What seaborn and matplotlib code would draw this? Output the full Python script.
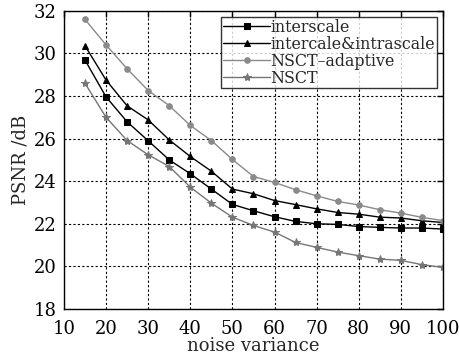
import numpy as np
import pandas as pd
import seaborn as sns
import matplotlib.pyplot as plt

noise = [15, 20, 25, 30, 35, 40, 45, 50, 55, 60, 65, 70, 75, 80, 85, 90, 95, 100]

interscale = [29.69, 27.96, 26.79, 25.90, 25.00, 24.35, 23.63, 22.91, 22.61, 22.33,
              22.11, 22.00, 21.97, 21.87, 21.83, 21.80, 21.80, 21.75]
inter_intra = [30.36, 28.75, 27.54, 26.88, 25.94, 25.16, 24.47, 23.63, 23.41, 23.09,
               22.90, 22.70, 22.53, 22.45, 22.31, 22.27, 22.14, 22.06]
nsct_adaptive = [31.60, 30.40, 29.28, 28.26, 27.55, 26.62, 25.91, 25.02, 24.22, 23.94,
                 23.60, 23.31, 23.05, 22.88, 22.66, 22.50, 22.30, 22.15]
nsct = [28.60, 27.00, 25.91, 25.24, 24.69, 23.72, 22.97, 22.31, 21.92, 21.61,
        21.12, 20.89, 20.67, 20.50, 20.34, 20.28, 20.08, 19.95]

series = [
    ('interscale', interscale, 's', 'black'),
    ('intercale&intrascale', inter_intra, '^', 'black'),
    ('NSCT\u2013adaptive', nsct_adaptive, 'o', '#8a8a8a'),
    ('NSCT', nsct, '*', '#767676'),
]

sns.set_style('white')
plt.rcParams['font.family'] = ['DejaVu Serif']
plt.rcParams['mathtext.fontset'] = 'dejavuserif'

fig = plt.figure(figsize=(4.6, 3.63), dpi=100)
ax = fig.add_axes([0.139, 0.149, 0.824, 0.821])

for name, vals, mk, col in series:
    ms = 6 if mk == '*' else 4.0
    sns.lineplot(x=noise, y=vals, ax=ax, marker=mk, color=col, label=name,
                 linewidth=1.0, markersize=ms, markeredgecolor=col)

ax.set_xlim(10, 100)
ax.set_ylim(18, 32)
ax.set_xticks(range(10, 101, 10))
ax.set_yticks(range(18, 33, 2))
ax.grid(True, linestyle=(0, (2, 2)), color='black', linewidth=0.8)
for s in ax.spines.values():
    s.set_color('black')
    s.set_linewidth(1.0)
ax.tick_params(direction='in', length=4, width=1, labelsize=13, colors='black',
               right=True, top=True)
ax.tick_params(axis='x', pad=8)
ax.tick_params(axis='y', pad=5)
ax.set_xlabel('noise variance', fontsize=13, labelpad=-1)
ax.set_ylabel('PSNR /dB', fontsize=13, labelpad=3)

leg = ax.legend(loc='upper right', fontsize=11.4, frameon=True, fancybox=False,
                borderpad=0.1, labelspacing=0.0, handlelength=3.0,
                handletextpad=0.0, borderaxespad=0.4)
leg.get_frame().set_edgecolor('black')
leg.get_frame().set_linewidth(1.0)

fig.savefig('out.png', dpi=100)
